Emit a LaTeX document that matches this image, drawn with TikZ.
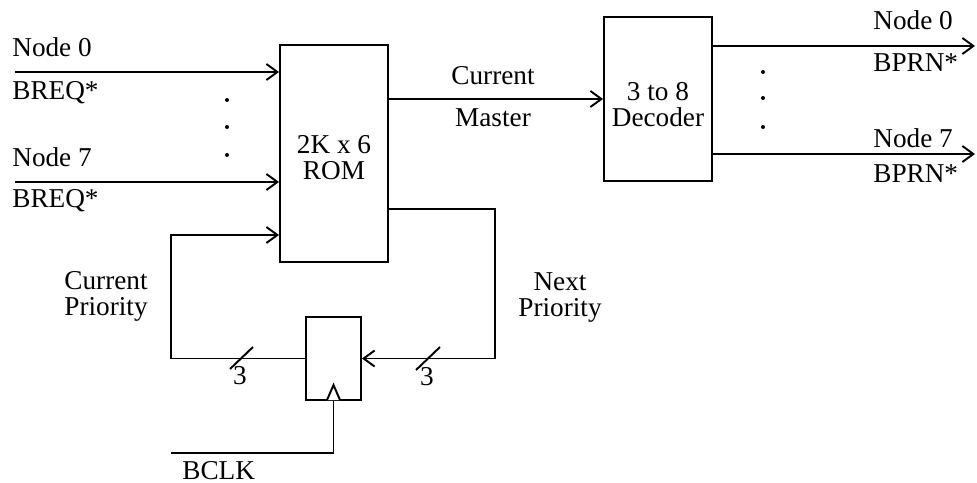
\documentclass[tikz,border=0pt]{standalone}
\usepackage{fontspec}
\setmainfont{Liberation Serif}
\usepackage{tikz}
\usetikzlibrary{arrows.meta,positioning}
\tikzset{block/.style={draw, rectangle, line width=1.1pt, fill=white,
align=center, inner sep=0pt},
arrow/.style={draw,line width=1.1pt,-{Straight Barb[length=2.2mm,width=3.2mm]}},
line/.style={draw,line width=1.1pt,-},
lbl/.style={font=\fontsize{15.5}{14.8}\selectfont, inner sep=0pt, align=center},
dot/.style={fill=black}}

\begin{document}
\begin{tikzpicture}[x=0.02cm, y=-0.02cm, font=\fontsize{15.5}{14.8}\selectfont]
    \useasboundingbox (0,0) rectangle (977,483);

    % Define the blocks
    \node[block, minimum width=2.16cm, minimum height=4.34cm] (rom) at (334,153.5) {};
    \node[block, minimum width=2.16cm, minimum height=3.28cm] (dec) at (658,99) {};
    \node[block, minimum width=1.1cm, minimum height=1.66cm] (reg) at (333.5,358.5) {};
    \node[lbl] (romtext) at ([yshift=-0.08cm]rom.center) {2K x 6\\ROM};
    \node[lbl] (dectext) at ([yshift=-0.11cm]dec.center) {3 to 8\\Decoder};

    % Request lines into the ROM
    \coordinate (in0) at (15,72);
    \coordinate (in7) at (15,182);
    \draw[arrow] (in0) -- (in0 -| rom.west);
    \draw[arrow] (in7) -- (in7 -| rom.west);
    \node[lbl, anchor=base west] (n0) at (12,57) {Node 0};
    \node[lbl, anchor=base west] (breq0) at (12,100) {BREQ*};
    \node[lbl, anchor=base west] (n7) at (12,167) {Node 7};
    \node[lbl, anchor=base west] (breq7) at (12,207) {BREQ*};
    \foreach \y in {100,127,155}
        \fill[dot] (227,\y) circle (2);

    % Current master
    \draw[arrow] (rom.east |- dec.west) -- (dec.west);
    \node[lbl, anchor=base] (cur) at (493,85) {Current};
    \node[lbl, anchor=base] (mst) at (493,127) {Master};

    % Grant lines out of the decoder
    \coordinate (out0) at (975,46);
    \coordinate (out7) at (975,154);
    \draw[arrow] (out0 -| dec.east) -- (out0);
    \draw[arrow] (out7 -| dec.east) -- (out7);
    \node[lbl, anchor=base west] (m0) at (873,30) {Node 0};
    \node[lbl, anchor=base west] (bprn0) at (873,72) {BPRN*};
    \node[lbl, anchor=base west] (m7) at (873,148) {Node 7};
    \node[lbl, anchor=base west] (bprn7) at (873,182) {BPRN*};
    \foreach \y in {72,98,127}
        \fill[dot] (763,\y) circle (2);

    % Priority feedback loop
    \coordinate (nxt) at (495,209);
    \coordinate (prv) at (171,235);
    \draw[arrow] (rom.east |- nxt) -- (nxt) |- (reg.east);
    \draw[arrow] (reg.west) -| (prv) -- (prv -| rom.west);
    \draw[line] (230,369) -- (253,347);
    \draw[line] (416,370) -- (440,347);
    \node[lbl] (w1) at (240,376) {3};
    \node[lbl] (w2) at (427,377) {3};
    \node[lbl] (curp) at (106,296) {Current\\Priority};
    \node[lbl] (nxtp) at (560,298) {Next\\Priority};

    % Clock
    \coordinate (clk) at (171,453);
    \draw[line] (clk) -| (reg.south);
    \draw[line, fill=white] (327,400) -- (333.5,385) -- (340,400);
    \node[lbl, anchor=base west] (bclk) at (182,479) {BCLK};
\end{tikzpicture}
\end{document}
